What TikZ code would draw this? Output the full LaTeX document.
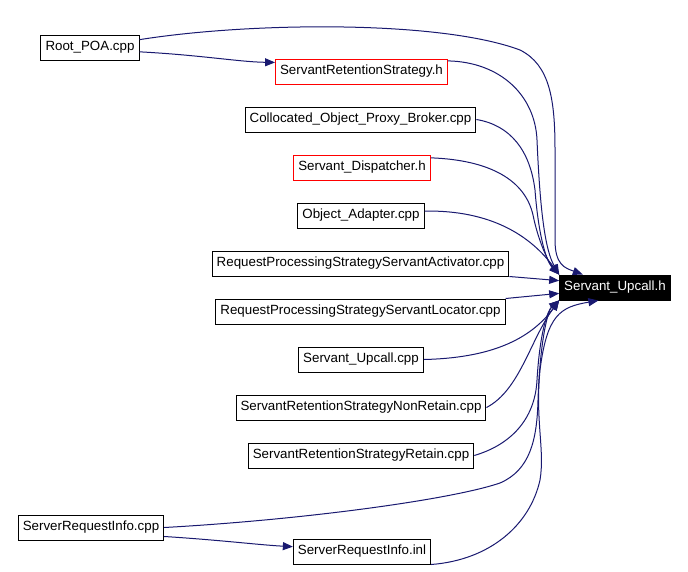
\documentclass[tikz,border=0pt]{standalone}
\usepackage{fontspec}
\setmainfont{Liberation Sans}
\usepackage{xcolor}
\usepackage{tikz}
\usetikzlibrary{arrows.meta}
\definecolor{edgeblue}{HTML}{191970}
\pgfkeys{tikz/filebox/.style={draw=black,line width=0.75pt,fill=white,minimum height=18.75pt,inner xsep=3.4pt,inner ysep=0pt,font=\fontsize{10}{12}\selectfont}}
\pgfkeys{tikz/redbox/.style={filebox,draw=red}}
\pgfkeys{tikz/rootbox/.style={filebox,draw=black,fill=black,text=white}}
\pgfkeys{tikz/incl/.style={draw=edgeblue,line width=0.75pt,-{Triangle[length=7.5pt,width=6pt]},color=edgeblue}}

\begin{document}
\begin{tikzpicture}[x=0.75pt,y=-0.75pt]
    \useasboundingbox[fill=white] (0,0) rectangle (688,571);
    \node[rootbox] (tgt) at (615,287.5) {Servant\_Upcall.h};
    \node[filebox] (rp)  at (90,47.5)    {Root\_POA.cpp};
    \node[redbox]  (srs) at (361.5,71.5) {ServantRetentionStrategy.h};
    \node[filebox] (cop) at (360.5,119.5) {Collocated\_Object\_Proxy\_Broker.cpp};
    \node[redbox]  (sd)  at (362,167.5)  {Servant\_Dispatcher.h};
    \node[filebox] (oa)  at (361,215.5)  {Object\_Adapter.cpp};
    \node[filebox] (rpa) at (360.5,263.5) {RequestProcessingStrategyServantActivator.cpp};
    \node[filebox] (rpl) at (360.5,311.5) {RequestProcessingStrategyServantLocator.cpp};
    \node[filebox] (suc) at (361,359.5)  {Servant\_Upcall.cpp};
    \node[filebox] (nr)  at (361,407.5)  {ServantRetentionStrategyNonRetain.cpp};
    \node[filebox] (rtn) at (361,455.5)  {ServantRetentionStrategyRetain.cpp};
    \node[filebox] (sri) at (91,527.5)   {ServerRequestInfo.cpp};
    \node[filebox] (inl) at (362,551.5)  {ServerRequestInfo.inl};
    % includes
    \draw[incl] (rp.9) .. controls (250,22) and (440,20) .. (520,50)
        .. controls (550,65) and (555,100) .. (555,150) -- (555,240)
        .. controls (555,265) and (565,268) .. (tgt.158);
    \draw[incl] (rp.-5) .. controls (200,55) and (240,62) .. (srs.174);
    \draw[incl] (srs.7) .. controls (500,62) and (535,95) .. (537,140)
        .. controls (540,210) and (545,250) .. (tgt.167);
    \draw[incl] (cop.east) .. controls (510,125) and (530,150) .. (535,190)
        .. controls (538,230) and (545,260) .. (tgt.167);
    \draw[incl] (sd.8) .. controls (490,160) and (525,180) .. (533,215)
        .. controls (538,240) and (548,262) .. (tgt.167);
    \draw[incl] (oa.4) .. controls (490,210) and (530,235) .. (tgt.167);
    \draw[incl] (rpa.south east) -- (tgt.173);
    \draw[incl] (rpl.north east) -- (tgt.186);
    \draw[incl] (suc.east) .. controls (490,358) and (530,340) .. (tgt.193);
    \draw[incl] (nr.east) .. controls (520,390) and (530,340) .. (tgt.193);
    \draw[incl] (rtn.east) .. controls (510,445) and (535,420) .. (537,380)
        .. controls (540,330) and (548,310) .. (tgt.193);
    \draw[incl] (sri.east) .. controls (300,520) and (450,500) .. (500,483)
        .. controls (530,470) and (537,440) .. (538,400)
        .. controls (540,340) and (548,310) .. (tgt.193);
    \draw[incl] (sri.-7) .. controls (220,540) and (260,545) .. (inl.176);
    \draw[incl] (inl.south east) .. controls (490,560) and (530,525) .. (540,480)
        .. controls (545,450) and (535,420) .. (540,370)
        .. controls (547,315) and (560,307) .. (tgt.218);
\end{tikzpicture}
\end{document}
